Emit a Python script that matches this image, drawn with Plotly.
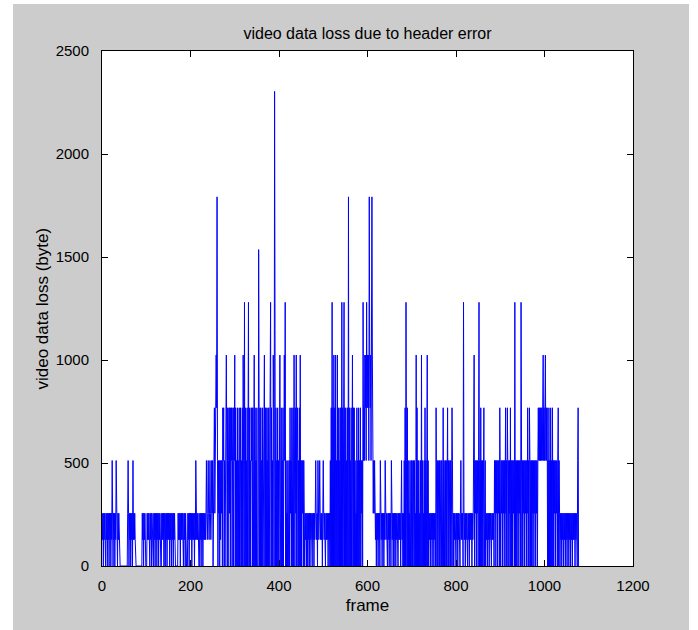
import plotly.graph_objects as go

# ---- data (one code per frame; loss = code * 128 bytes) ----
# codes: 0=0, 1=128, 2=256, 4=512, 6=768, 8=1024, 9=1152, a=1280, c=1536, e=1792, i=2304
loss_codes = [
    "2120212102", "1202120212", "0214202120", "2141202121", "0000000000",
    "0000000024", "2021202120", "4121210000", "0000000000", "0212021200",
    "0021212002", "1202100212", "0212021202", "1200021212", "0200212021",
    "2120212021", "2021200000", "0021212021", "2120021202", "0000212021",
    "2120212120", "2142121200", "0212021202", "1212124212", "4212421242",
    "4042626486", "e404240414", "2406460406", "4840604626", "0646046064",
    "8060406040", "6046040608", "40a0604060", "6a06040646", "0604806040",
    "6000c00606", "0406064806", "0604060606", "4a06040860", "i906040604",
    "0682060406", "0484a04020", "4024062406", "0460840628", "0460406080",
    "4042404202", "1202021202", "0212002120", "2124212042", "1242121202",
    "4212002121", "2021204060", "a060806080", "4080604060", "60a0604a06",
    "0604060e06", "0406048060", "6040206040", "6040604240", "a4648684a6",
    "8684e86848", "e842424212", "0212021204", "2120212021", "4212002120",
    "2120421202", "0212021200", "2121202412", "0204060a40", "6040204024",
    "0402404020", "8060404020", "4080402040", "6040680402", "1202120212",
    "0212064040", "2404024040", "0604024040", "4604024040", "2640202120",
    "0212021200", "2412120a21", "2021200212", "0212120212", "4804240424",
    "04a0406040", "4046024021", "2021202120", "0212120424", "0424042406",
    "4042404240", "4260406404", "2406040404", "240a040404", "2404240a40",
    "4042404240", "4260406404", "0404240424", "0424046464", "6464646846",
    "4684646040", "6040604060", "4042404240", "4604202120", "2120212021",
    "2021202120", "2120212120", "21200460",
]
UNIT_BYTES = 128
loss = [int(c, 36) * UNIT_BYTES for c in "".join(loss_codes)]
frames = list(range(len(loss)))

x_ticks = [0, 200, 400, 600, 800, 1000, 1200]
y_ticks = [0, 500, 1000, 1500, 2000, 2500]

title_text = "video data loss due to header error"
x_label = "frame"
y_label = "video data loss (byte)"

# ---- figure ----
W, H = 698, 630
L, R, T, B = 102, 65, 51, 64
narrow = "Liberation Sans Narrow, Arial Narrow, Liberation Sans, Arial, sans-serif"
regular = "Liberation Sans, Arial, sans-serif"

fig = go.Figure()
fig.add_trace(go.Scatter(
    x=frames, y=loss, mode="lines",
    line=dict(color="#0000ff", width=1),
    hoverinfo="x+y", showlegend=False,
))

axis_common = dict(
    showline=True, linecolor="black", linewidth=1, mirror="ticks",
    ticks="inside", ticklen=6, tickcolor="black", tickwidth=1,
    showgrid=False, zeroline=False,
    tickfont=dict(family=narrow, size=15, color="black"),
)
fig.update_xaxes(range=[0, 1200], tickvals=x_ticks, ticklabelstandoff=6,
                 title=dict(text=x_label, standoff=6,
                            font=dict(family=narrow, size=17, color="black")),
                 **axis_common)
fig.update_yaxes(range=[0, 2500], tickvals=y_ticks, ticklabelstandoff=9,
                 **axis_common)


def px_to_paper_x(px):
    return (px - L) / (W - L - R)


def px_to_paper_y(py):
    return (H - B - py) / (H - T - B)


# white border strips of the original screenshot
shapes = []
for x0, x1, y0, y1 in [(0, 13, 0, H), (689, W, 0, H), (0, W, 0, 4)]:
    shapes.append(dict(type="rect", xref="paper", yref="paper", layer="above",
                       x0=px_to_paper_x(x0), x1=px_to_paper_x(x1),
                       y0=px_to_paper_y(y1), y1=px_to_paper_y(y0),
                       fillcolor="white", line=dict(width=0)))

fig.update_layout(
    width=W, height=H,
    margin=dict(l=L, r=R, t=T, b=B, pad=0),
    paper_bgcolor="#cccccc", plot_bgcolor="white",
    title=dict(text=title_text, x=0.5, xref="paper", xanchor="center",
               y=1 - 33 / H, yref="container", yanchor="middle",
               font=dict(family=narrow, size=16, color="black")),
    shapes=shapes,
    annotations=[dict(text=y_label, textangle=-90, showarrow=False,
                      xref="paper", yref="paper",
                      x=px_to_paper_x(42), y=0.5,
                      xanchor="center", yanchor="middle",
                      font=dict(family=regular, size=17, color="black"))],
)

fig.write_html("out.html")
